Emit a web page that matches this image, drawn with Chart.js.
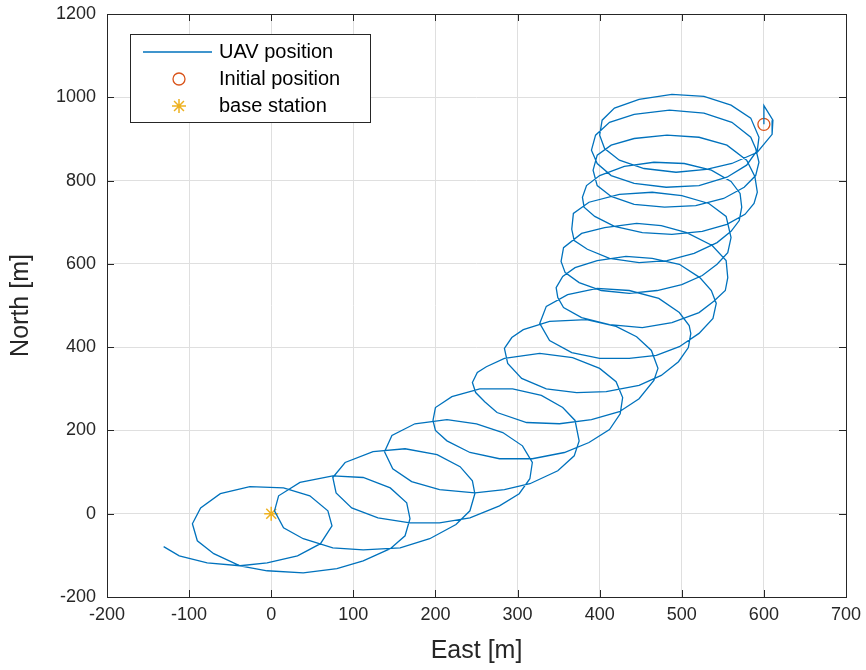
<!DOCTYPE html>
<html>
<head>
<meta charset="utf-8">
<title>UAV position</title>
<script src="https://cdn.jsdelivr.net/npm/chart.js@4.4.1/dist/chart.umd.min.js"></script>
<style>
  html, body { margin: 0; padding: 0; background: #fff; }
</style>
</head>
<body>
<canvas id="myChart" width="866" height="670"></canvas>
<script>
// flight track, East / North in metres
const eastPos = [
  600, 600, 611, 610, 592, 561, 530, 493, 454, 424, 406, 400, 403, 418, 448, 488, 527, 560, 584, 594,
  592, 579, 555, 521, 481, 442, 414, 397, 390, 395, 412, 442, 485, 527, 561, 584, 590, 594, 590, 576,
  551, 517, 479, 442, 414, 397, 392, 397, 414, 442, 482, 521, 555, 579, 589, 592, 588, 577, 555, 525,
  488, 452, 418, 394, 381, 379, 384, 400, 430, 466, 503, 536, 560, 571, 573, 570, 560, 543, 515, 482,
  448, 412, 385, 369, 366, 368, 387, 424, 464, 500, 533, 554, 560, 556, 543, 525, 500, 470, 436, 402,
  375, 358, 353, 356, 378, 406, 445, 475, 506, 537, 554, 556, 553, 539, 521, 488, 452, 412, 378, 356,
  349, 347, 355, 370, 397, 432, 464, 497, 522, 536, 542, 538, 521, 497, 469, 436, 400, 366, 339, 327,
  335, 361, 397, 436, 472, 497, 509, 511, 508, 496, 475, 448, 408, 372, 335, 305, 288, 284, 293, 307,
  339, 384, 420, 445, 463, 471, 466, 448, 424, 390, 351, 311, 275, 260, 249, 245, 251, 262, 284, 327,
  367, 400, 420, 428, 425, 412, 387, 357, 318, 278, 242, 214, 200, 197, 200, 220, 254, 294, 329, 355,
  370, 375, 369, 349, 315, 284, 248, 205, 171, 148, 138, 147, 175, 214, 250, 282, 306, 318, 315, 302,
  278, 242, 205, 169, 130, 98, 79, 75, 90, 124, 163, 202, 230, 245, 248, 242, 225, 193, 157, 112,
  75, 39, 15, 4, 9, 35, 75, 112, 145, 165, 169, 163, 145, 112, 80, 39, -5, -38, -70, -90,
  -96, -86, -62, -26, 15, 47, 69, 74, 60, 32, -5, -38, -78, -112, -131
];
const northPos = [
  935, 980, 945, 911, 868, 841, 827, 820, 829, 849, 877, 909, 945, 974, 995, 1007, 1002, 981, 950, 904,
  873, 837, 808, 788, 784, 793, 812, 841, 873, 909, 940, 959, 969, 962, 940, 904, 877, 844, 812, 784,
  757, 740, 736, 743, 762, 788, 825, 861, 885, 901, 909, 904, 885, 849, 810, 772, 745, 719, 695, 678,
  671, 675, 690, 714, 736, 760, 788, 812, 834, 844, 841, 825, 798, 769, 736, 704, 678, 651, 625, 608,
  603, 613, 635, 656, 683, 721, 748, 767, 772, 764, 745, 714, 663, 627, 599, 572, 550, 536, 529, 536,
  555, 579, 606, 639, 673, 687, 697, 692, 675, 644, 608, 567, 536, 510, 483, 459, 447, 454, 471, 495,
  519, 543, 570, 591, 608, 618, 613, 599, 567, 536, 505, 469, 433, 401, 380, 373, 373, 387, 416, 457,
  498, 526, 541, 536, 517, 483, 452, 433, 399, 365, 332, 308, 293, 291, 300, 325, 361, 397, 423, 442,
  462, 466, 450, 425, 392, 349, 320, 276, 245, 226, 216, 219, 243, 269, 291, 315, 339, 353, 373, 385,
  375, 349, 317, 279, 240, 202, 171, 147, 132, 132, 147, 175, 200, 224, 255, 281, 300, 300, 284, 255,
  224, 175, 139, 103, 72, 58, 50, 58, 77, 108, 149, 188, 216, 226, 216, 195, 163, 123, 84, 48,
  19, -10, -22, -22, -10, 14, 50, 87, 123, 149, 156, 142, 113, 79, 48, 7, -26, -60, -82, -87,
  -82, -60, -34, 7, 43, 75, 91, 87, 62, 26, -12, -53, -84, -113, -132, -142, -137, -125, -96, -65,
  -24, 14, 48, 65, 62, 43, 7, -29, -72, -101, -118, -125, -118, -101, -79
];
const initialPos = [600, 935];
const basePos = [0, 0];

const xTicks = [-200, -100, 0, 100, 200, 300, 400, 500, 600, 700];
const yTicks = [-200, 0, 200, 400, 600, 800, 1000, 1200];

const legendLabels = ['UAV position', 'Initial position', 'base station'];

const cBlue = '#0072BD';
const cRed = '#D95319';
const cYellow = '#EDB120';
const cAxis = '#262626';
const fontFam = '"Liberation Sans", Arial, Helvetica, sans-serif';

const track = eastPos.map((e, i) => ({ x: e, y: northPos[i] }));

// box around the axes, inward ticks and the legend, drawn like a MATLAB figure
const boxPlugin = {
  id: 'boxPlugin',
  afterDraw(chart) {
    const ctx = chart.ctx;
    const a = chart.chartArea;
    const sx = chart.scales.x, sy = chart.scales.y;
    ctx.save();
    ctx.strokeStyle = cAxis;
    ctx.lineWidth = 1;
    ctx.strokeRect(Math.round(a.left) + 0.5, Math.round(a.top) + 0.5,
                   Math.round(a.right - a.left), Math.round(a.bottom - a.top));
    ctx.beginPath();
    for (const v of xTicks) {
      const px = Math.round(sx.getPixelForValue(v)) + 0.5;
      ctx.moveTo(px, a.bottom); ctx.lineTo(px, a.bottom - 7);
      ctx.moveTo(px, a.top); ctx.lineTo(px, a.top + 7);
    }
    for (const v of yTicks) {
      const py = Math.round(sy.getPixelForValue(v)) + 0.5;
      ctx.moveTo(a.left, py); ctx.lineTo(a.left + 7, py);
      ctx.moveTo(a.right, py); ctx.lineTo(a.right - 7, py);
    }
    ctx.stroke();

    // legend
    const lx = 130.5, ly = 34.5, lw = 240, lh = 88;
    ctx.fillStyle = '#fff';
    ctx.fillRect(lx, ly, lw, lh);
    ctx.strokeStyle = cAxis;
    ctx.strokeRect(lx, ly, lw, lh);

    ctx.strokeStyle = cBlue;
    ctx.lineWidth = 1.3;
    ctx.beginPath();
    ctx.moveTo(143, 52); ctx.lineTo(212, 52);
    ctx.stroke();

    ctx.strokeStyle = cRed;
    ctx.beginPath();
    ctx.arc(179, 79, 6, 0, Math.PI * 2);
    ctx.stroke();

    ctx.strokeStyle = cYellow;
    ctx.lineWidth = 1.5;
    ctx.beginPath();
    const r = 7, d = r * Math.SQRT1_2;
    ctx.moveTo(179 - r, 106); ctx.lineTo(179 + r, 106);
    ctx.moveTo(179, 106 - r); ctx.lineTo(179, 106 + r);
    ctx.moveTo(179 - d, 106 - d); ctx.lineTo(179 + d, 106 + d);
    ctx.moveTo(179 - d, 106 + d); ctx.lineTo(179 + d, 106 - d);
    ctx.stroke();

    ctx.fillStyle = '#000';
    ctx.font = '20px ' + fontFam;
    ctx.textBaseline = 'middle';
    ctx.textAlign = 'left';
    ctx.fillText(legendLabels[0], 219, 52);
    ctx.fillText(legendLabels[1], 219, 79);
    ctx.fillText(legendLabels[2], 219, 106);
    ctx.restore();
  }
};

const config = {
  type: 'scatter',
  data: {
    datasets: [{
      label: legendLabels[0],
      data: track,
      showLine: true,
      borderColor: cBlue,
      backgroundColor: cBlue,
      borderWidth: 1.3,
      pointRadius: 0,
      tension: 0
    }, {
      label: legendLabels[1],
      data: [{ x: initialPos[0], y: initialPos[1] }],
      pointStyle: 'circle',
      pointRadius: 6,
      borderColor: cRed,
      backgroundColor: 'rgba(0,0,0,0)',
      borderWidth: 1.3
    }, {
      label: legendLabels[2],
      data: [{ x: basePos[0], y: basePos[1] }],
      pointStyle: 'star',
      pointRadius: 7,
      borderColor: cYellow,
      backgroundColor: cYellow,
      borderWidth: 1.5
    }]
  },
  options: {
    responsive: false,
    animation: false,
    devicePixelRatio: 1,
    layout: { padding: { left: 0, right: 20, top: 14, bottom: 0 } },
    plugins: {
      legend: { display: false },
      tooltip: { enabled: false }
    },
    scales: {
      x: {
        type: 'linear',
        min: -200,
        max: 700,
        afterBuildTicks: s => { s.ticks = xTicks.map(v => ({ value: v })); },
        afterFit: s => { s.height = 73; s.paddingLeft = 0; s.paddingRight = 0; },
        grid: { color: '#dfdfdf', lineWidth: 1, drawTicks: false },
        border: { display: false },
        ticks: {
          color: cAxis, padding: 7, maxRotation: 0,
          font: { family: fontFam, size: 18 },
          callback: v => String(v)
        },
        title: {
          display: true, text: 'East [m]', color: cAxis,
          font: { family: fontFam, size: 25 }, padding: { top: 0, bottom: 4 }
        }
      },
      y: {
        type: 'linear',
        min: -200,
        max: 1200,
        afterBuildTicks: s => { s.ticks = yTicks.map(v => ({ value: v })); },
        afterFit: s => { s.width = 107; s.paddingTop = 0; s.paddingBottom = 0; },
        grid: { color: '#dfdfdf', lineWidth: 1, drawTicks: false },
        border: { display: false },
        ticks: {
          color: cAxis, padding: 11,
          font: { family: fontFam, size: 18 },
          callback: v => String(v)
        },
        title: {
          display: true, text: 'North [m]', color: cAxis,
          font: { family: fontFam, size: 25 }, padding: { top: 6, bottom: 0 }
        }
      }
    }
  },
  plugins: [boxPlugin]
};

const myChart = new Chart(document.getElementById('myChart'), config);
</script>
</body>
</html>
